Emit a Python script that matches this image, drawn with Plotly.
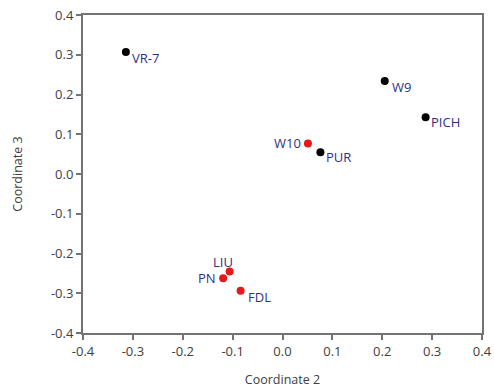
import plotly.graph_objects as go

# Multidimensional scaling coordinates per sample
names = ["VR-7", "W9", "PICH", "W10", "PUR", "LIU", "PN", "FDL"]
coord2 = [-0.314, 0.205, 0.287, 0.051, 0.076, -0.106, -0.119, -0.084]
coord3 = [0.307, 0.234, 0.143, 0.077, 0.055, -0.245, -0.262, -0.294]
groups = ["black", "black", "black", "red", "black", "red", "red", "red"]

x_ticks = [-0.4, -0.3, -0.2, -0.1, 0.0, 0.1, 0.2, 0.3, 0.4]
y_ticks = [-0.4, -0.3, -0.2, -0.1, 0.0, 0.1, 0.2, 0.3, 0.4]

colour = {"black": "#000000", "red": "#e3191c"}

# label placement next to each point: (anchor, x shift px, y shift px)
label_place = {
    "VR-7": ("left", 4, -6),
    "W9": ("left", 5, -6),
    "PICH": ("left", 3, -5),
    "W10": ("right", -5, 0),
    "PUR": ("left", 4, -5),
    "LIU": ("right", 5, 9),
    "PN": ("right", -5, 0),
    "FDL": ("left", 5, -6),
}

fig = go.Figure()
fig.add_trace(go.Scatter(
    x=coord2, y=coord3, mode="markers",
    marker=dict(size=8, color=[colour[g] for g in groups]),
    showlegend=False, cliponaxis=False, hoverinfo="text", text=names,
))

for name, xv, yv in zip(names, coord2, coord3):
    anchor, dx, dy = label_place[name]
    fig.add_annotation(
        x=xv, y=yv, text=name, showarrow=False,
        xanchor=anchor, yanchor="middle", xshift=dx, yshift=dy,
        font=dict(family="Open Sans", size=13, color="#2f2f85"),
    )

axis_common = dict(
    showgrid=False, zeroline=False, showline=True, mirror=True,
    linecolor="#737373", linewidth=2, ticks="outside", ticklen=5,
    tickcolor="#737373", tickwidth=2,
    tickfont=dict(family="Open Sans", size=13, color="#404040"),
)
fig.update_xaxes(range=[-0.4, 0.4], tickvals=x_ticks,
                 ticktext=[f"{v:.1f}" for v in x_ticks],
                 title=dict(text="Coordinate 2", standoff=17,
                            font=dict(family="Open Sans", size=12.5, color="#404040")),
                 **axis_common)
fig.update_yaxes(range=[-0.4, 0.4], tickvals=y_ticks,
                 ticktext=[f"{v:.1f}" for v in y_ticks],
                 title=dict(text="Coordinate 3", standoff=26,
                            font=dict(family="Open Sans", size=12.5, color="#404040")),
                 **axis_common)

fig.update_layout(
    width=494, height=389,
    margin=dict(l=83, r=12, t=15, b=56, autoexpand=False),
    paper_bgcolor="white", plot_bgcolor="white",
)

fig.write_html("out.html")
